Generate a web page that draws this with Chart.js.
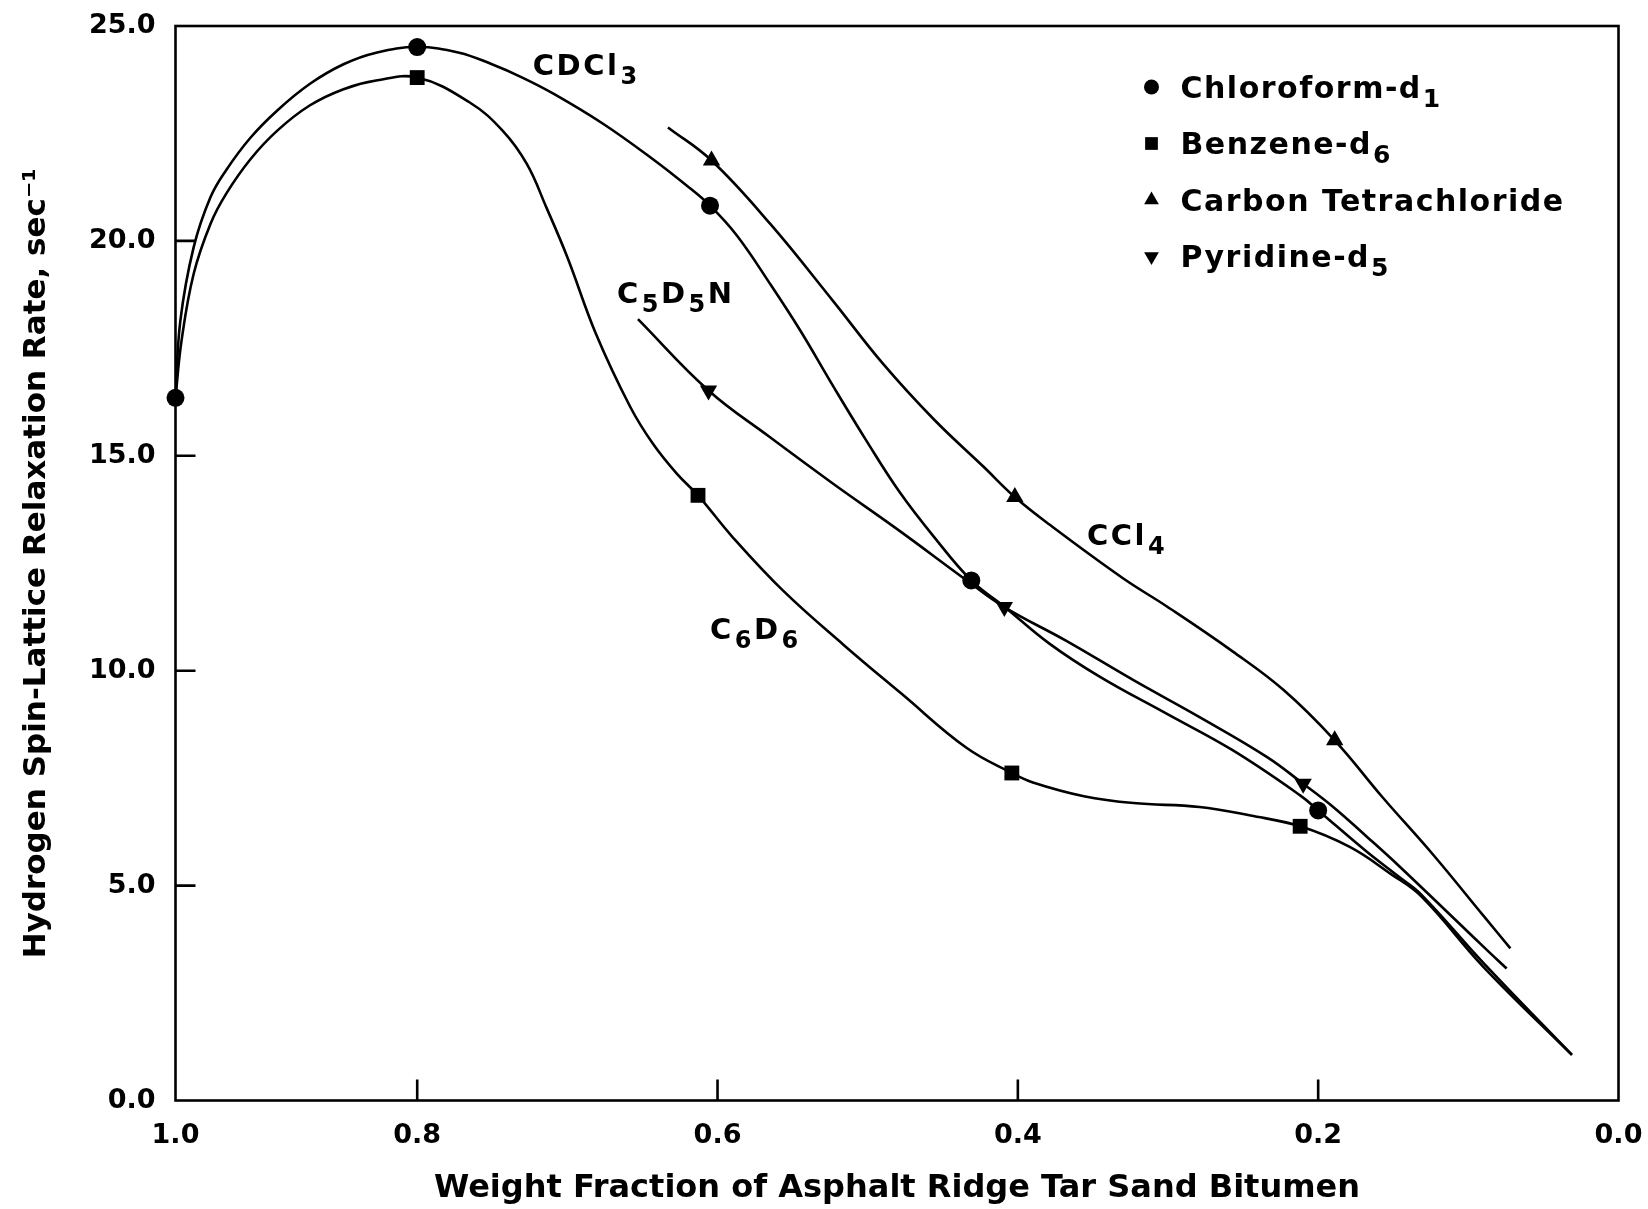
<!DOCTYPE html>
<html>
<head>
<meta charset="utf-8">
<script src="https://cdn.jsdelivr.net/npm/chart.js@4.4.0/dist/chart.umd.min.js"></script>
<style>
  html, body { margin: 0; background: #fff; }
  #wrap { width: 1648px; height: 1209px; }
</style>
</head>
<body>
<div id="wrap"><canvas id="chart"></canvas></div>
<script>
// values (x = weight fraction of bitumen, y = relaxation rate, 1/s)
const tickX = [0, 0.2, 0.4, 0.6, 0.8, 1.0];
const tickY = [0, 5, 10, 15, 20, 25];

const solventNames = ['Chloroform-d₁', 'Benzene-d₆', 'Carbon Tetrachloride', 'Pyridine-d₅'];

// drawn curves
const chloroCurveX = [1.000, 0.996, 0.985, 0.971, 0.958, 0.938, 0.916, 0.889, 0.861, 0.834, 0.800, 0.772, 0.751, 0.730, 0.709, 0.676, 0.643, 0.621, 0.605, 0.587, 0.565, 0.545, 0.523, 0.501, 0.479, 0.456, 0.431, 0.409, 0.379, 0.345, 0.301, 0.257, 0.212, 0.200, 0.168, 0.146, 0.131, 0.090, 0.031];
const chloroCurveY = [16.35, 18.14, 19.85, 21.02, 21.65, 22.40, 23.03, 23.65, 24.11, 24.38, 24.51, 24.38, 24.12, 23.80, 23.42, 22.72, 21.90, 21.30, 20.82, 20.12, 19.00, 17.92, 16.62, 15.36, 14.17, 13.12, 12.10, 11.49, 10.63, 9.85, 9.00, 8.15, 7.10, 6.75, 5.80, 5.20, 4.78, 3.20, 1.06];

const benzeneCurveX = [1.000, 0.995, 0.985, 0.971, 0.958, 0.938, 0.916, 0.889, 0.861, 0.834, 0.800, 0.765, 0.743, 0.727, 0.714, 0.700, 0.681, 0.658, 0.643, 0.627, 0.613, 0.590, 0.556, 0.516, 0.477, 0.434, 0.404, 0.390, 0.356, 0.323, 0.279, 0.245, 0.212, 0.179, 0.152, 0.131, 0.090, 0.031];
const benzeneCurveY = [16.35, 17.68, 19.23, 20.40, 21.10, 21.90, 22.56, 23.15, 23.53, 23.73, 23.80, 23.22, 22.56, 21.79, 20.78, 19.62, 17.84, 16.13, 15.28, 14.58, 14.08, 13.11, 11.85, 10.60, 9.45, 8.20, 7.62, 7.40, 7.08, 6.92, 6.83, 6.63, 6.38, 5.90, 5.28, 4.74, 3.11, 1.06];

const ccl4CurveX = [0.633, 0.604, 0.565, 0.523, 0.490, 0.456, 0.423, 0.402, 0.379, 0.330, 0.301, 0.257, 0.223, 0.189, 0.157, 0.123, 0.090, 0.072];
const ccl4CurveY = [22.64, 21.87, 20.40, 18.60, 17.15, 15.85, 14.75, 14.04, 13.40, 12.15, 11.50, 10.45, 9.55, 8.38, 7.05, 5.70, 4.30, 3.54];

const pyridineCurveX = [0.653, 0.606, 0.565, 0.523, 0.479, 0.434, 0.409, 0.368, 0.323, 0.279, 0.234, 0.210, 0.190, 0.168, 0.146, 0.090, 0.0745];
const pyridineCurveY = [18.18, 16.52, 15.43, 14.35, 13.26, 12.10, 11.48, 10.70, 9.78, 8.92, 7.99, 7.37, 6.83, 6.15, 5.45, 3.58, 3.07];

// measured points (markers)
const chloroPtsX = [1.0, 0.80, 0.605, 0.431, 0.200];
const chloroPtsY = [16.35, 24.51, 20.82, 12.10, 6.75];
const benzenePtsX = [0.80, 0.613, 0.404, 0.212];
const benzenePtsY = [23.80, 14.08, 7.62, 6.38];
const ccl4PtsX = [0.604, 0.402, 0.189];
const ccl4PtsY = [21.87, 14.04, 8.38];
const pyridinePtsX = [0.606, 0.409, 0.210];
const pyridinePtsY = [16.52, 11.48, 7.37];

// curve labels: text, x, y (data units of the label's left/middle)
const curveLabelText = ['CDCl₃', 'C₅D₅N', 'C₆D₆', 'CCl₄'];
const curveLabelX = [0.723, 0.667, 0.605, 0.354];
const curveLabelY = [24.10, 18.80, 10.97, 13.17];

const FONT = '"DejaVu Sans", sans-serif';

// the original x axis is squeezed between 0.8 and 1.0
const BREAK_VAL = 0.8, BREAK_FRAC = 0.8325;
const LinearBase = Chart.LinearScale || Chart.registry.getScale('linear');
class BentScale extends LinearBase {
  getPixelForValue(v) {
    if (v === null || v === undefined || isNaN(v)) return NaN;
    const lo = this.min, hi = this.max;
    const d = v <= BREAK_VAL
      ? (v - lo) / (BREAK_VAL - lo) * BREAK_FRAC
      : BREAK_FRAC + (v - BREAK_VAL) / (hi - BREAK_VAL) * (1 - BREAK_FRAC);
    return this.getPixelForDecimal(d);
  }
  getValueForPixel(p) {
    const d = this.getDecimalForPixel(p);
    return d <= BREAK_FRAC
      ? this.min + d / BREAK_FRAC * (BREAK_VAL - this.min)
      : BREAK_VAL + (d - BREAK_FRAC) / (1 - BREAK_FRAC) * (this.max - BREAK_VAL);
  }
}
BentScale.id = 'bent';
BentScale.defaults = LinearBase.defaults;
Chart.register(BentScale);

const pts = (xs, ys) => xs.map((x, i) => ({ x: x, y: ys[i] }));

const SUB = { '₀': '0', '₁': '1', '₂': '2', '₃': '3', '₄': '4', '₅': '5', '₆': '6', '₇': '7', '₈': '8', '₉': '9' };

// text with subscript digits
function drawRich(ctx, str, x, yMid, size) {
  const base = yMid + size * 0.36;
  let cx = x, run = '';
  const flush = () => {
    if (!run) return;
    ctx.font = 'bold ' + size + 'px ' + FONT;
    ctx.fillText(run, cx, base);
    cx += ctx.measureText(run).width;
    run = '';
  };
  for (const ch of str) {
    if (SUB[ch]) {
      flush();
      const s = Math.round(size * 0.82);
      ctx.font = 'bold ' + s + 'px ' + FONT;
      ctx.fillText(SUB[ch], cx + 1, base + size * 0.3);
      cx += ctx.measureText(SUB[ch]).width + 1;
    } else {
      run += ch;
    }
  }
  flush();
}

const markerStyle = [
  { pointStyle: 'circle', rotation: 0, radius: 9, legendRadius: 7.5 },
  { pointStyle: 'rect', rotation: 0, radius: 10.5, legendRadius: 9 },
  { pointStyle: 'triangle', rotation: 0, radius: 10, legendRadius: 8.5 },
  { pointStyle: 'triangle', rotation: 180, radius: 10, legendRadius: 8.5 }
];

function curve(label, xs, ys) {
  return {
    label: label, data: pts(xs, ys),
    borderColor: '#000', borderWidth: 2.6, pointRadius: 0, pointHoverRadius: 0,
    tension: 0.4, fill: false
  };
}
function markers(label, xs, ys, st) {
  return {
    label: label, data: pts(xs, ys), showLine: false, clip: false,
    pointStyle: st.pointStyle, rotation: st.rotation, pointRadius: st.radius,
    pointHoverRadius: st.radius, backgroundColor: '#000', borderColor: '#000', borderWidth: 0
  };
}

const decor = {
  id: 'decor',
  beforeDraw(chart) {
    const ctx = chart.ctx;
    ctx.save();
    ctx.fillStyle = '#fff';
    ctx.fillRect(0, 0, chart.width, chart.height);
    ctx.restore();
  },
  beforeDatasetsDraw(chart) {
    const { ctx, chartArea: a, scales } = chart;
    const xs = scales.x, ys = scales.y;
    ctx.save();
    ctx.strokeStyle = '#000';
    ctx.lineWidth = 2.6;
    ctx.strokeRect(a.left, a.top, a.width, a.height);
    // inward tick marks
    ctx.beginPath();
    tickY.slice(1, -1).forEach(v => {
      const py = ys.getPixelForValue(v);
      ctx.moveTo(a.left, py); ctx.lineTo(a.left + 20, py);
    });
    tickX.slice(1, -1).forEach(v => {
      const px = xs.getPixelForValue(v);
      ctx.moveTo(px, a.bottom); ctx.lineTo(px, a.bottom - 21);
    });
    ctx.stroke();
    ctx.restore();
  },
  afterDraw(chart) {
    const { ctx, chartArea: a, scales } = chart;
    const xs = scales.x, ys = scales.y;
    ctx.save();
    // labels on the curves
    ctx.fillStyle = '#000';
    ctx.textAlign = 'left';
    ctx.textBaseline = 'alphabetic';
    ctx.letterSpacing = '2.5px';
    curveLabelText.forEach((t, i) => {
      drawRich(ctx, t, xs.getPixelForValue(curveLabelX[i]), ys.getPixelForValue(curveLabelY[i]), 29);
    });

    // legend in the upper right corner
    ctx.letterSpacing = '1.5px';
    const mx = a.right - 467, tx = a.right - 438;
    solventNames.forEach((name, i) => {
      const cy = a.top + 61 + i * 56.5;
      const st = markerStyle[i];
      Chart.helpers.drawPoint(ctx, { pointStyle: st.pointStyle, rotation: st.rotation, radius: st.legendRadius, borderWidth: 0 }, mx, cy);
      drawRich(ctx, name, tx, cy, 30);
    });
    ctx.letterSpacing = '0px';
    ctx.restore();
  }
};

new Chart(document.getElementById('chart'), {
  type: 'line',
  data: {
    datasets: [
      curve(solventNames[0], chloroCurveX, chloroCurveY),
      curve(solventNames[1], benzeneCurveX, benzeneCurveY),
      curve(solventNames[2], ccl4CurveX, ccl4CurveY),
      curve(solventNames[3], pyridineCurveX, pyridineCurveY),
      markers(solventNames[0], chloroPtsX, chloroPtsY, markerStyle[0]),
      markers(solventNames[1], benzenePtsX, benzenePtsY, markerStyle[1]),
      markers(solventNames[2], ccl4PtsX, ccl4PtsY, markerStyle[2]),
      markers(solventNames[3], pyridinePtsX, pyridinePtsY, markerStyle[3])
    ]
  },
  options: {
    animation: false,
    responsive: true,
    maintainAspectRatio: false,
    layout: { padding: { top: 26, right: 29.5, left: 0, bottom: 0 } },
    plugins: { legend: { display: false }, tooltip: { enabled: false } },
    scales: {
      x: {
        type: 'bent', reverse: true, min: 0, max: 1,
        afterBuildTicks: s => { s.ticks = tickX.map(v => ({ value: v })); },
        afterFit: s => { s.height = 108.5; },
        grid: { display: false, drawTicks: false },
        border: { display: false },
        ticks: {
          callback: v => Number(v).toFixed(1), color: '#000', padding: 19,
          maxRotation: 0, autoSkip: false,
          font: { family: FONT, size: 27, weight: 'bold' }
        },
        title: {
          display: true, text: 'Weight Fraction of Asphalt Ridge Tar Sand Bitumen', color: '#000',
          font: { family: FONT, size: 32, weight: 'bold' }, padding: { top: 0, bottom: 1 }
        }
      },
      y: {
        min: 0, max: 25,
        afterBuildTicks: s => { s.ticks = tickY.map(v => ({ value: v })); },
        afterFit: s => { s.width = 175.5; s.paddingTop = 0; s.paddingBottom = 0; },
        grid: { display: false, drawTicks: false },
        border: { display: false },
        ticks: {
          callback: v => Number(v).toFixed(1), color: '#000', padding: 20,
          font: { family: FONT, size: 27, weight: 'bold' }
        },
        title: {
          display: true, text: 'Hydrogen Spin-Lattice Relaxation Rate, sec⁻¹', color: '#000',
          font: { family: FONT, size: 31, weight: 'bold' }, padding: { top: 18, bottom: 0 }
        }
      }
    }
  },
  plugins: [decor]
});
</script>
</body>
</html>
